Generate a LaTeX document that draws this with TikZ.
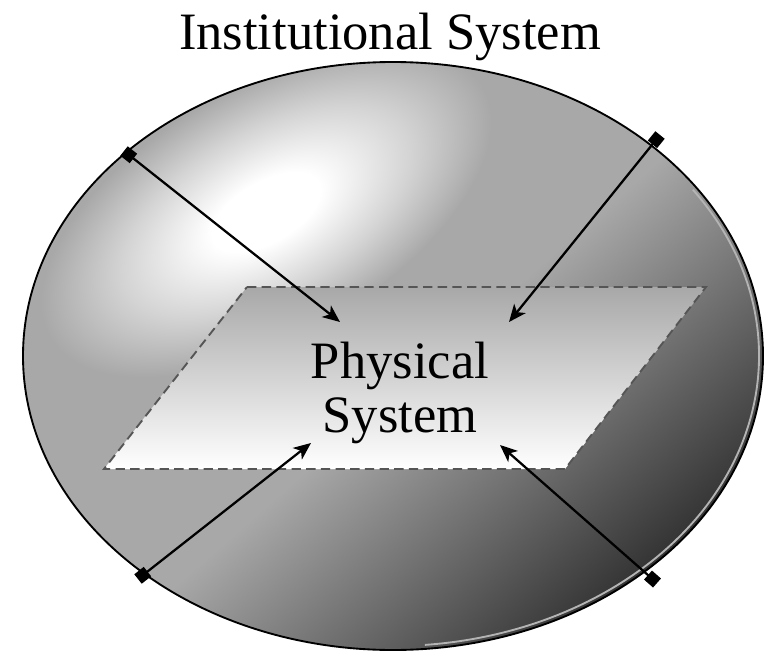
\documentclass[tikz,border=0pt]{standalone}
\usepackage{fontspec}
\setmainfont{Liberation Serif}
\usetikzlibrary{arrows.meta}

\definecolor{ballgray}{HTML}{A8A8A8}
\definecolor{balldark}{HTML}{333333}
\definecolor{dashgray}{HTML}{555555}
\definecolor{rimgray}{HTML}{B4B4B4}

\pgfdeclarehorizontalshading{darkside}{100bp}{color(0bp)=(ballgray); color(51.7bp)=(ballgray); color(69.6bp)=(balldark); color(100bp)=(balldark)}
\pgfdeclareradialshading{glow}{\pgfpoint{0bp}{0bp}}{color(0bp)=(white); color(6bp)=(white); color(16bp)=(white!50!ballgray); color(25bp)=(ballgray); color(50bp)=(ballgray)}

\begin{document}
\begin{tikzpicture}[
  x=0.75pt,y=-0.75pt,
  big/.style={font=\fontsize{39.4}{40.5}\selectfont},
  link/.style={{Square[length=9pt,width=9pt]}-{Stealth[length=13pt,width=11pt,inset=3.5pt]},line width=1.7pt},
  plane/.style={draw=dashgray,line width=1.4pt,dash pattern=on 7pt off 4pt},
  rim/.style={rimgray,line width=1.4pt},
]
\useasboundingbox (0,0) rectangle (767,660);

% institutional sphere
\begin{scope}
  \clip (393,356) ellipse (370 and 294);
  \begin{scope}[transform canvas={shift={(393,356)},rotate=-48.7}]
    \shade[shading=darkside] (-420,-420) rectangle (420,420);
  \end{scope}
  \begin{scope}[transform canvas={shift={(266,212)},rotate=30}]
    \shade[shading=glow] (0,0) ellipse (250 and 125);
  \end{scope}
\end{scope}
\draw[rim] ([shift={(-35:366 and 290)}]393,356) arc[start angle=-35,end angle=85,x radius=366,y radius=290];
\draw[line width=1.4pt] (393,356) ellipse (370 and 294);

% physical plane
\shadedraw[plane,top color=ballgray,bottom color=white] (247,287) -- (706,287) -- (565,469) -- (104,469) -- cycle;

\node[big,anchor=base] (inst) at (390,50) {Institutional System};
\node[big,align=center] (phys) at (400,393) {Physical\\System};

% links from the boundary
\coordinate (t1) at (124,151); \coordinate (h1) at (340,322);
\coordinate (t2) at (660,135); \coordinate (h2) at (509,322);
\coordinate (t3) at (138,579); \coordinate (h3) at (311,443);
\coordinate (t4) at (657,583); \coordinate (h4) at (500,445);
\foreach \i in {1,...,4} \draw[link] (t\i) -- (h\i);
\end{tikzpicture}
\end{document}
